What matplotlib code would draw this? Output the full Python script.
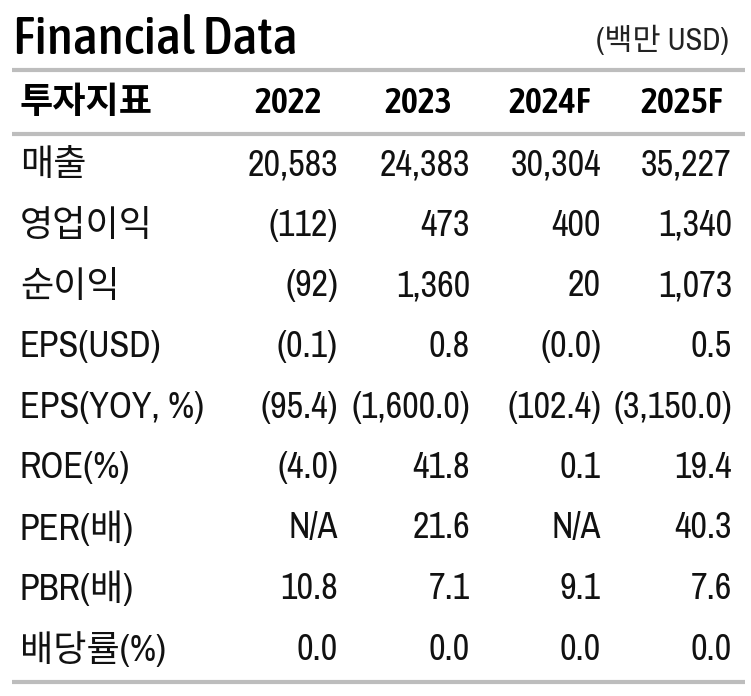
import matplotlib.pyplot as plt

# Table content
title = "Financial Data"
unit = "(백만 USD)"
header = ["투자지표", "2022", "2023", "2024F", "2025F"]
rows = ["매출", "영업이익", "순이익", "EPS(USD)", "EPS(YOY, %)",
        "ROE(%)", "PER(배)", "PBR(배)", "배당률(%)"]
v2022 = ["20,583", "(112)", "(92)", "(0.1)", "(95.4)", "(4.0)", "N/A", "10.8", "0.0"]
v2023 = ["24,383", "473", "1,360", "0.8", "(1,600.0)", "41.8", "21.6", "7.1", "0.0"]
v2024 = ["30,304", "400", "20", "(0.0)", "(102.4)", "0.1", "N/A", "9.1", "0.0"]
v2025 = ["35,227", "1,340", "1,073", "0.5", "(3,150.0)", "19.4", "40.3", "7.6", "0.0"]

fam = ["Archivo Narrow", "Noto Sans CJK KR", "DejaVu Sans"]
fam_b = ["Asap Condensed", "Noto Sans CJK KR", "DejaVu Sans"]
plt.rcParams['font.family'] = fam

W, H = 751, 696
fig = plt.figure(figsize=(W / 100, H / 100), dpi=100)
ax = fig.add_axes([0, 0, 1, 1])
ax.set_xlim(0, W)
ax.set_ylim(H, 0)
ax.axis('off')

ax.text(13, 39, title, fontsize=38.5, fontweight=500, family=fam_b, va='center', ha='left')
ax.text(729, 40, unit, fontsize=22, fontweight='light', va='center', ha='right', color='#222222')

for y in [70, 134, 682]:
    ax.plot([12, 745], [y, y], color='#bdbdbd', lw=3, solid_capstyle='butt')

hdr_x = [20, 288, 418, 550, 682]
ax.text(hdr_x[0], 103, header[0], fontsize=26, fontweight=600, family=fam_b,
        va='center', ha='left')
for x, h in zip(hdr_x[1:], header[1:]):
    ax.text(x, 103, h, fontsize=26, fontweight=600, family=fam_b, va='center', ha='center')

right_x = [338, 470, 601, 732]
y0, dy = 165, 60.5
for i, name in enumerate(rows):
    y = y0 + i * dy
    ax.text(20, y, name, fontsize=26, fontweight='light', va='center', ha='left', color='#111111')
    for x, col in zip(right_x, [v2022, v2023, v2024, v2025]):
        ax.text(x, y, col[i], fontsize=26, fontweight='light', va='center', ha='right',
                color='#111111')

fig.savefig('out.png', dpi=100)
